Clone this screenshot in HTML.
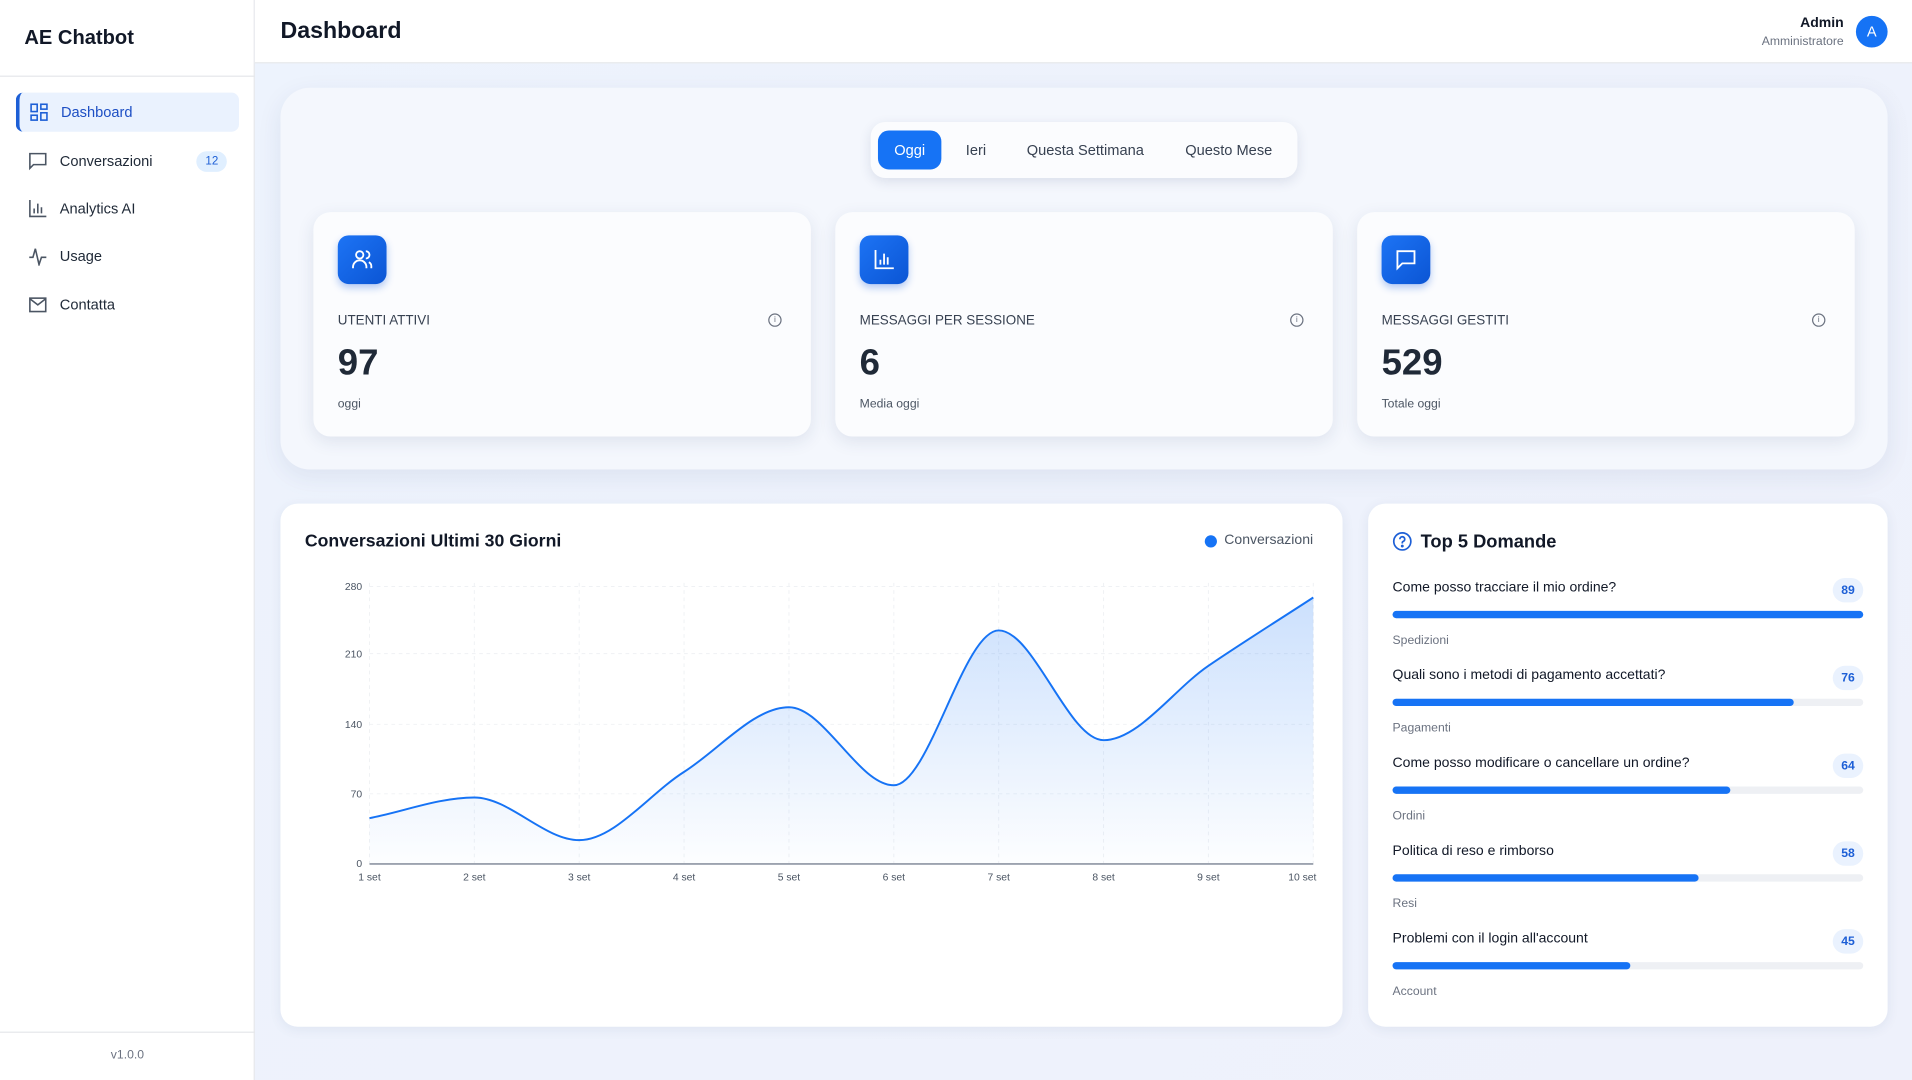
<!DOCTYPE html>
<html><head><meta charset="utf-8"><style>
*{box-sizing:border-box;margin:0;padding:0}
html,body{width:1912px;height:1080px;overflow:hidden;background:#eef3fc}
body{font-family:"Liberation Sans",sans-serif;color:#111827}
#w{position:absolute;left:0;top:0;width:1568px;height:886px;transform:scale(1.21939);transform-origin:0 0;background:linear-gradient(135deg,#edf3fd,#eef1fb)}
.a{position:absolute}
.side{left:0;top:0;width:209px;height:886px;background:#fff;border-right:1px solid #e5e7eb}
.nav{left:13px;width:183px;height:32px;display:flex;align-items:center;font-size:12px;color:#1f2937;padding-left:10px}
.nav svg{margin-right:10px}
.card{background:#fbfcfe;border-radius:14px;box-shadow:0 4px 14px rgba(30,50,100,.10)}
.ic{width:40px;height:40px;border-radius:9px;background:linear-gradient(135deg,#1d74f5,#0b55d4);box-shadow:0 3px 6px rgba(20,90,220,.3);display:flex;align-items:center;justify-content:center}
.lbl{font-size:11px;color:#374151}
.num{font-size:30px;font-weight:bold;color:#1f2937}
.sub{font-size:10px;color:#4b5563}
.q{font-size:11.5px;color:#111827;left:20px}
.bar{left:20px;width:386px;height:6px;border-radius:3px;background:#eef0f4}
.bar i{display:block;height:6px;border-radius:3px;background:#1673f5}
.cat{font-size:10px;color:#6b7280;left:20px}
.bd{right:20px;width:25px;height:20px;border-radius:10px;background:#eaf2fe;color:#1d5fd6;font-size:10px;font-weight:bold;display:flex;align-items:center;justify-content:center}
.inf{width:11px;height:11px;border:1px solid #6b7280;border-radius:6px;font-size:7px;line-height:9px;text-align:center;color:#6b7280}
</style></head><body><div id="w">
<div class="a side">
 <div class="a" style="left:20px;top:22px;font-size:16.5px;font-weight:bold">AE Chatbot</div>
 <div class="a" style="left:0;top:62px;width:209px;height:1px;background:#e5e7eb"></div>
 <div class="a nav" style="top:76px;background:#eaf2fe;border-radius:6px;color:#1d4fc4;border-left:3px solid #1d5fd6;padding-left:8px"><svg width="16" height="16" viewBox="0 0 16 16" fill="none" stroke="#1d5fd6" stroke-width="1.3"><rect x="1.5" y="1.5" width="5" height="6"/><rect x="9.5" y="1.5" width="5" height="4"/><rect x="9.5" y="8.5" width="5" height="6"/><rect x="1.5" y="10.5" width="5" height="4"/></svg>Dashboard</div>
 <div class="a nav" style="top:116px"><svg width="16" height="16" viewBox="0 0 16 16" fill="none" stroke="#4b5563" stroke-width="1.3"><path d="M1.5 2h13v9h-10l-3 3z"/></svg>Conversazioni<span style="margin-left:auto;margin-right:10px;background:#e0efff;color:#1d5fd6;font-size:9.5px;border-radius:9px;padding:3px 7px">12</span></div>
 <div class="a nav" style="top:155px"><svg width="16" height="16" viewBox="0 0 16 16" fill="none" stroke="#4b5563" stroke-width="1.3"><path d="M1.5 1v13.5H15M5 12V8M8 12V4M11 12V7"/></svg>Analytics AI</div>
 <div class="a nav" style="top:194px"><svg width="16" height="16" viewBox="0 0 16 16" fill="none" stroke="#4b5563" stroke-width="1.3"><path d="M1 9h3l2-7 3 13 2-6h4"/></svg>Usage</div>
 <div class="a nav" style="top:234px"><svg width="16" height="16" viewBox="0 0 16 16" fill="none" stroke="#4b5563" stroke-width="1.3"><rect x="1.5" y="2.5" width="13" height="11"/><path d="M1.5 3l6.5 5 6.5-5"/></svg>Contatta</div>
 <div class="a" style="left:0;top:846px;width:209px;height:1px;background:#e5e7eb"></div>
 <div class="a" style="left:0;top:860px;width:209px;text-align:center;font-size:10px;color:#6b7280">v1.0.0</div>
</div>
<div class="a" style="left:209px;top:0;width:1359px;height:52px;background:#fff;border-bottom:1px solid #e5e7eb">
 <div class="a" style="left:21px;top:15px;font-size:19px;font-weight:bold">Dashboard</div>
 <div class="a" style="right:56px;top:13px;font-size:11.5px;font-weight:bold;text-align:right">Admin</div>
 <div class="a" style="right:56px;top:29px;font-size:10px;color:#6b7280;text-align:right">Amministratore</div>
 <div class="a" style="left:1313px;top:13px;width:26px;height:26px;border-radius:13px;background:#1673f5;color:#fff;font-size:12px;display:flex;align-items:center;justify-content:center">A</div>
</div>
<div class="a" style="left:230px;top:72px;width:1318px;height:313px;border-radius:24px;background:#f4f7fd;box-shadow:0 6px 20px rgba(30,50,100,.08)"></div>
<div class="a" style="left:714px;top:100px;width:350px;height:46px;border-radius:12px;background:#fbfcfe;box-shadow:0 3px 10px rgba(30,50,100,.12);font-size:12px;color:#374151">
 <div class="a" style="left:6px;top:7px;width:52px;height:32px;border-radius:9px;background:#1673f5;color:#fff;display:flex;align-items:center;justify-content:center">Oggi</div>
 <div class="a" style="left:78px;top:16px">Ieri</div>
 <div class="a" style="left:128px;top:16px">Questa Settimana</div>
 <div class="a" style="left:258px;top:16px">Questo Mese</div>
</div>
<div class="a card" style="left:257px;top:174px;width:408px;height:184px">
 <div class="a ic" style="left:20px;top:19px"><svg width="20" height="20" viewBox="0 0 20 20" fill="none" stroke="#fff" stroke-width="1.5"><circle cx="8" cy="6" r="3"/><path d="M2.5 17v-1a5 5 0 0 1 11 0v1M13 3a3 3 0 0 1 0 6M15.5 12a4 4 0 0 1 2 4v1"/></svg></div>
 <div class="a lbl" style="left:20px;top:83px">UTENTI ATTIVI</div>
 <div class="a inf" style="left:373px;top:83px">i</div>
 <div class="a num" style="left:20px;top:107px">97</div>
 <div class="a sub" style="left:20px;top:152px">oggi</div>
</div>
<div class="a card" style="left:685px;top:174px;width:408px;height:184px">
 <div class="a ic" style="left:20px;top:19px"><svg width="20" height="20" viewBox="0 0 20 20" fill="none" stroke="#fff" stroke-width="1.5"><path d="M3 2v15h15M7 14v-4M10 14V5M13 14V8"/></svg></div>
 <div class="a lbl" style="left:20px;top:83px">MESSAGGI PER SESSIONE</div>
 <div class="a inf" style="left:373px;top:83px">i</div>
 <div class="a num" style="left:20px;top:107px">6</div>
 <div class="a sub" style="left:20px;top:152px">Media oggi</div>
</div>
<div class="a card" style="left:1113px;top:174px;width:408px;height:184px">
 <div class="a ic" style="left:20px;top:19px"><svg width="20" height="20" viewBox="0 0 20 20" fill="none" stroke="#fff" stroke-width="1.5"><path d="M3 3h14v10H7l-4 4z"/></svg></div>
 <div class="a lbl" style="left:20px;top:83px">MESSAGGI GESTITI</div>
 <div class="a inf" style="left:373px;top:83px">i</div>
 <div class="a num" style="left:20px;top:107px">529</div>
 <div class="a sub" style="left:20px;top:152px">Totale oggi</div>
</div>
<div class="a" style="left:230px;top:413px;width:871px;height:429px;background:#fff;border-radius:14px;box-shadow:0 2px 10px rgba(30,50,100,.07)">
 <div class="a" style="left:20px;top:23px;font-size:14.5px;font-weight:bold">Conversazioni Ultimi 30 Giorni</div>
 <div class="a" style="left:758px;top:26px;width:10px;height:10px;border-radius:5px;background:#1673f5"></div>
 <div class="a" style="left:774px;top:24px;font-size:11.5px;color:#4b5563">Conversazioni</div>
</div>
<svg class="a" style="left:0;top:0" width="1568" height="886" font-family="Liberation Sans, sans-serif" font-size="8.5" fill="#4b5563">
 <defs><linearGradient id="g" x1="0" y1="0" x2="0" y2="1"><stop offset="0" stop-color="#1673f5" stop-opacity=".22"/><stop offset="1" stop-color="#1673f5" stop-opacity=".01"/></linearGradient></defs>
 <g stroke="#eff1f4" stroke-dasharray="3 3" stroke-width="0.8">
  <path d="M303 481H1077M303 536H1077M303 594H1077M303 651H1077"/>
  <path d="M303 478V708M389 478V708M475 478V708M561 478V708M647 478V708M733 478V708M819 478V708M905 478V708M991 478V708M1077 478V708"/>
 </g>
 <path d="M303,671 C331.7,665.3 360.3,654 389,654 C417.7,654 446.3,689 475,689 C503.7,689 532.3,651.2 561,633 C589.7,614.8 618.3,580 647,580 C675.7,580 704.3,644 733,644 C761.7,644 790.3,517 819,517 C847.7,517 876.3,607 905,607 C933.7,607 962.3,565.5 991,546 C1019.7,526.5 1048.3,508.7 1077,490 L1077,708 L303,708Z" fill="url(#g)"/>
 <path d="M303,671 C331.7,665.3 360.3,654 389,654 C417.7,654 446.3,689 475,689 C503.7,689 532.3,651.2 561,633 C589.7,614.8 618.3,580 647,580 C675.7,580 704.3,644 733,644 C761.7,644 790.3,517 819,517 C847.7,517 876.3,607 905,607 C933.7,607 962.3,565.5 991,546 C1019.7,526.5 1048.3,508.7 1077,490" fill="none" stroke="#1673f5" stroke-width="1.6"/>
 <path d="M303 708.5H1077" stroke="#9ca3af" stroke-width="1.5"/>
 <g text-anchor="end"><text x="297" y="484">280</text><text x="297" y="539">210</text><text x="297" y="597">140</text><text x="297" y="654">70</text><text x="297" y="711">0</text></g>
 <g text-anchor="middle"><text x="303" y="722">1 set</text><text x="389" y="722">2 set</text><text x="475" y="722">3 set</text><text x="561" y="722">4 set</text><text x="647" y="722">5 set</text><text x="733" y="722">6 set</text><text x="819" y="722">7 set</text><text x="905" y="722">8 set</text><text x="991" y="722">9 set</text><text x="1068" y="722">10 set</text></g>
</svg>
<div class="a" style="left:1122px;top:413px;width:426px;height:429px;background:#fff;border-radius:14px;box-shadow:0 2px 10px rgba(30,50,100,.07)">
 <svg class="a" style="left:20px;top:23px" width="16" height="16" viewBox="0 0 16 16" fill="none" stroke="#1d5fd6" stroke-width="1.4"><circle cx="8" cy="8" r="7"/><path d="M6 6.2a2 2 0 1 1 2.5 1.9c-.4.2-.5.5-.5 1v.6"/><circle cx="8" cy="11.8" r=".5" fill="#1d5fd6"/></svg>
 <div class="a" style="left:43px;top:23px;font-size:15px;font-weight:bold">Top 5 Domande</div>
 <div class="a q" style="top:63px">Come posso tracciare il mio ordine?</div><div class="a bd" style="top:61px">89</div>
 <div class="a bar" style="top:88px"><i style="width:100%"></i></div><div class="a cat" style="top:107px">Spedizioni</div>
 <div class="a q" style="top:135px">Quali sono i metodi di pagamento accettati?</div><div class="a bd" style="top:133px">76</div>
 <div class="a bar" style="top:160px"><i style="width:85.2%"></i></div><div class="a cat" style="top:179px">Pagamenti</div>
 <div class="a q" style="top:207px">Come posso modificare o cancellare un ordine?</div><div class="a bd" style="top:205px">64</div>
 <div class="a bar" style="top:232px"><i style="width:71.8%"></i></div><div class="a cat" style="top:251px">Ordini</div>
 <div class="a q" style="top:279px">Politica di reso e rimborso</div><div class="a bd" style="top:277px">58</div>
 <div class="a bar" style="top:304px"><i style="width:65%"></i></div><div class="a cat" style="top:323px">Resi</div>
 <div class="a q" style="top:351px">Problemi con il login all'account</div><div class="a bd" style="top:349px">45</div>
 <div class="a bar" style="top:376px"><i style="width:50.5%"></i></div><div class="a cat" style="top:395px">Account</div>
</div>
</div></body></html>
